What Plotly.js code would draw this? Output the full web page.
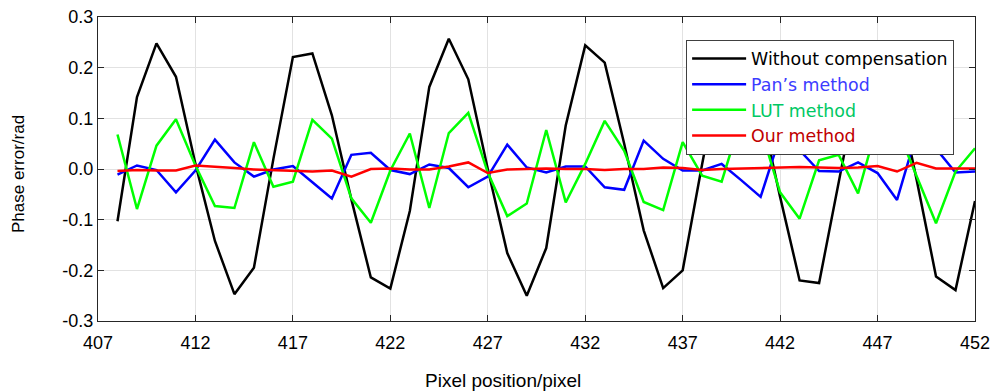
<!DOCTYPE html>
<html>
<head>
<meta charset="utf-8">
<script src="https://cdn.plot.ly/plotly-3.0.1.min.js"></script>
<style>html,body{margin:0;padding:0;background:#fff;}#chart{width:994px;height:392px;}</style>
</head>
<body>
<div id="chart"></div>
<script>
const pixelPos = [408,409,410,411,412,413,414,415,416,417,418,419,420,421,422,423,424,425,426,427,428,429,430,431,432,433,434,435,436,437,438,439,440,441,442,443,444,445,446,447,448,449,450,451,452];

const withoutComp = [-0.103,0.142,0.248,0.182,0.01,-0.142,-0.247,-0.195,0.02,0.221,0.228,0.106,-0.06,-0.214,-0.236,-0.083,0.162,0.257,0.177,0.0,-0.166,-0.25,-0.156,0.086,0.244,0.21,0.05,-0.121,-0.235,-0.2,0.01,0.21,0.245,0.12,-0.055,-0.22,-0.225,-0.03,0.17,0.25,0.16,-0.02,-0.212,-0.239,-0.063];

const pansMethod = [-0.011,0.007,-0.002,-0.046,-0.003,0.058,0.013,-0.015,-0.001,0.006,-0.026,-0.058,0.028,0.032,-0.002,-0.01,0.009,0.002,-0.036,-0.015,0.048,0.003,-0.007,0.005,0.005,-0.036,-0.041,0.056,0.02,-0.003,-0.003,0.01,-0.022,-0.055,0.065,0.037,-0.004,-0.005,0.013,-0.008,-0.061,0.07,0.04,-0.007,-0.005];

const lutMethod = [0.068,-0.079,0.046,0.098,0.007,-0.073,-0.077,0.053,-0.035,-0.025,0.097,0.06,-0.058,-0.106,-0.003,0.07,-0.077,0.071,0.111,-0.007,-0.093,-0.068,0.077,-0.066,0.01,0.095,0.036,-0.065,-0.081,0.053,-0.013,-0.025,0.1,0.08,-0.046,-0.098,0.017,0.028,-0.048,0.09,0.08,-0.012,-0.107,-0.005,0.041];

const ourMethod = [-0.004,-0.002,-0.003,-0.003,0.007,0.005,0.002,-0.001,-0.002,-0.003,-0.005,-0.003,-0.015,0.0,0.001,-0.001,-0.001,0.005,0.013,-0.008,-0.001,0.0,0.001,0.0,0.0,-0.002,0.0,0.0,0.003,0.002,-0.002,0.0,0.001,0.001,0.003,0.004,0.003,0.002,0.003,0.006,-0.005,0.012,0.001,0.001,0.001];

const seriesNames = ['Without compensation', 'Pan\u2019s method', 'LUT method', 'Our method'];
const xTickVals = [407,412,417,422,427,432,437,442,447,452];
const xTickText = ['407','412','417','422','427','432','437','442','447','452'];
const yTickVals = [-0.3,-0.2,-0.1,0,0.1,0.2,0.3];
const yTickText = ['-0.3','-0.2','-0.1','0.0','0.1','0.2','0.3'];

const lineColors = ['#000000','#0000ff','#00ff00','#ff0000'];
const textColors = ['#000000','#3c3cff','#00c864','#c00000'];
const seriesData = [withoutComp, pansMethod, lutMethod, ourMethod];

const traces = seriesData.map((ys, i) => ({
  x: pixelPos,
  y: ys,
  type: 'scatter',
  mode: 'lines',
  name: '<span style="color:' + textColors[i] + '">' + seriesNames[i] + '</span>',
  line: {color: lineColors[i], width: 2.5}
}));

const font = 'Liberation Sans, Arial, sans-serif';
const axisCommon = {
  showline: true, mirror: 'ticks', linecolor: '#262626', linewidth: 1,
  ticks: 'inside', ticklen: 6, tickcolor: '#262626', tickwidth: 1,
  showgrid: true, gridcolor: '#e2e2e2', gridwidth: 1, zeroline: false,
  tickfont: {family: font, size: 18, color: '#000'}
};

const layout = {
  width: 994, height: 392,
  margin: {l: 98, r: 19, t: 17, b: 71},
  paper_bgcolor: '#fff', plot_bgcolor: '#fff',
  showlegend: true,
  legend: {
    x: 0.6706, y: 0.925, xanchor: 'left', yanchor: 'top',
    bgcolor: '#fff', bordercolor: '#404040', borderwidth: 1,
    font: {family: 'DejaVu Sans, Liberation Sans, Arial, sans-serif', size: 17.4, color: '#000'},
    itemwidth: 54, tracegroupgap: 0
  },
  xaxis: Object.assign({}, axisCommon, {
    range: [407, 452], tickmode: 'array', tickvals: xTickVals, ticktext: xTickText,
    ticklabelstandoff: 5
  }),
  yaxis: Object.assign({}, axisCommon, {
    range: [-0.3, 0.3], tickmode: 'array', tickvals: yTickVals, ticktext: yTickText
  }),
  annotations: [{
    text: 'Pixel position/pixel', xref: 'paper', yref: 'paper',
    x: (503 - 98) / 877, y: -0.1954, xanchor: 'center', yanchor: 'middle',
    showarrow: false, font: {family: font, size: 19, color: '#000'}
  }, {
    text: 'Phase error/rad', xref: 'paper', yref: 'paper', textangle: -90,
    x: (18 - 98) / 877, y: 0.4835, xanchor: 'center', yanchor: 'middle',
    showarrow: false, font: {family: font, size: 17, color: '#000'}
  }]
};

Plotly.newPlot('chart', traces, layout, {displayModeBar: false, staticPlot: true});
</script>
</body>
</html>
